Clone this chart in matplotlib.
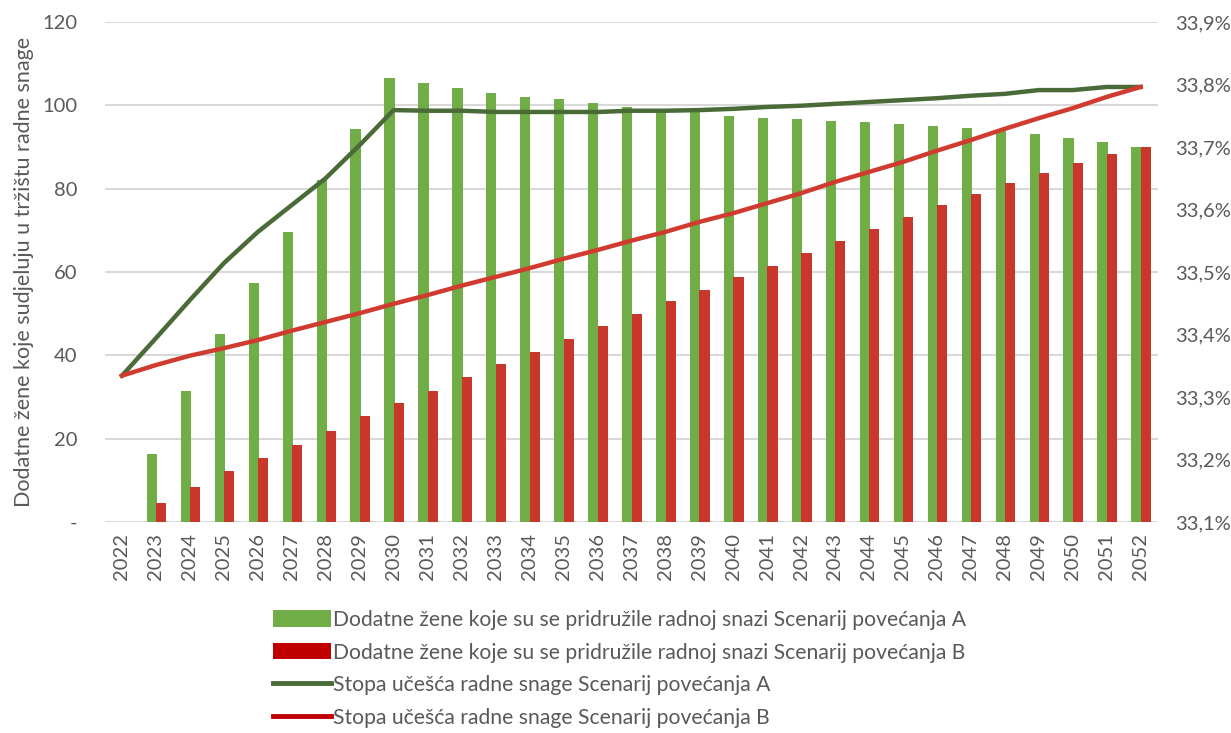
import numpy as np
import matplotlib
matplotlib.use("Agg")
import matplotlib.pyplot as plt
from matplotlib.patches import Patch
from matplotlib.lines import Line2D
from matplotlib.ticker import FuncFormatter

plt.rcParams['font.family'] = ['Lato', 'DejaVu Sans']

# Godine
godine = list(range(2022, 2053))

# Dodatne zene (stupci), 2022 nema vrijednosti
zene_A = [0, 16.4, 31.5, 45.0, 57.4, 69.6, 82.0, 94.3, 106.5, 105.3, 104.1,
          102.9, 102.1, 101.4, 100.5, 99.7, 99.0, 98.4, 97.5, 97.0, 96.6,
          96.3, 96.1, 95.5, 95.1, 94.6, 94.0, 93.0, 92.2, 91.3, 90.1]
zene_B = [0, 4.5, 8.3, 12.2, 15.4, 18.4, 21.7, 25.3, 28.5, 31.5, 34.8,
          37.8, 40.7, 44.0, 47.0, 50.0, 53.0, 55.7, 58.7, 61.5, 64.5,
          67.5, 70.4, 73.2, 76.1, 78.7, 81.4, 83.8, 86.2, 88.2, 90.1]

# Stopa ucesca radne snage (%), desna os
stopa_A = [33.334, 33.394, 33.455, 33.514, 33.564, 33.607, 33.650, 33.703,
           33.759, 33.758, 33.758, 33.756, 33.756, 33.756, 33.756, 33.758,
           33.758, 33.759, 33.761, 33.764, 33.766, 33.769, 33.772, 33.775,
           33.778, 33.782, 33.785, 33.791, 33.791, 33.796, 33.796]
stopa_B = [33.334, 33.351, 33.366, 33.378, 33.391, 33.406, 33.420, 33.434,
           33.449, 33.463, 33.478, 33.492, 33.506, 33.521, 33.535, 33.550,
           33.564, 33.580, 33.594, 33.610, 33.626, 33.644, 33.660, 33.676,
           33.694, 33.711, 33.729, 33.746, 33.762, 33.780, 33.796]

oznake = ["Dodatne žene koje su se pridružile radnoj snazi Scenarij povećanja A",
          "Dodatne žene koje su se pridružile radnoj snazi Scenarij povećanja B",
          "Stopa učešća radne snage Scenarij povećanja A",
          "Stopa učešća radne snage Scenarij povećanja B"]

zelena = '#70AD47'
crvena = '#C9372C'
tamno_zelena = '#4A6B38'
crvena_linija = '#D13B2F'
siva = '#595959'

x = np.arange(len(godine))
A_vals = np.array(zene_A, dtype=float)
B_vals = np.array(zene_B, dtype=float)

fig = plt.figure(figsize=(12.31, 7.33), dpi=100)
ax = fig.add_axes([0.0853, 0.288, 0.855, 0.682])

ax.bar(x[1:] - 0.12, A_vals[1:], width=0.3, color=zelena, zorder=2)
ax.bar(x[1:] + 0.16, B_vals[1:], width=0.3, color=crvena, zorder=3)

ax.set_ylim(0, 120)
ax.set_yticks(range(0, 121, 20))
ax.yaxis.set_major_formatter(FuncFormatter(lambda v, p: '-' if v == 0 else f'{v:.0f}'))
ax.set_xlim(-0.5, len(godine) - 0.5)
ax.set_xticks(x)
ax.set_xticklabels([str(g) for g in godine], rotation=90)
ax.grid(axis='y', color='#D9D9D9', linewidth=1.5, zorder=0)
ax.set_axisbelow(True)
for s in ax.spines.values():
    s.set_visible(False)
ax.tick_params(axis='both', length=0, colors=siva, labelsize=14.5)
ax.tick_params(axis='y', pad=20)
ax.tick_params(axis='x', pad=8)
ax.set_ylabel("Dodatne žene koje sudjeluju u tržištu radne snage",
              fontsize=15.5, color=siva, labelpad=6)

# Desna os za stope
ax2 = ax.twinx()
ax2.plot(x, stopa_A, color=tamno_zelena, linewidth=3.2, zorder=4)
ax2.plot(x, stopa_B, color=crvena_linija, linewidth=3.2, zorder=5)
ax2.set_ylim(33.1, 33.9)
ax2.set_yticks(np.arange(33.1, 33.91, 0.1))
ax2.yaxis.set_major_formatter(FuncFormatter(lambda v, p: f'{v:.1f}'.replace('.', ',') + '%'))
for s in ax2.spines.values():
    s.set_visible(False)
ax2.tick_params(axis='y', length=0, colors=siva, labelsize=14.5, pad=13)

ruke = [Patch(facecolor=zelena, edgecolor='none'),
        Patch(facecolor='#C00000', edgecolor='none'),
        Line2D([0], [0], color=tamno_zelena, linewidth=3.5),
        Line2D([0], [0], color='#C00000', linewidth=3.5)]
fig.legend(ruke, oznake, loc='upper left', bbox_to_anchor=(0.222, 0.168),
           frameon=False, fontsize=15.2, labelcolor=siva, handlelength=2.75,
           handleheight=0.8, handletextpad=0.1, labelspacing=0.6,
           borderaxespad=0, borderpad=0)

fig.savefig('out.png', dpi=100)
